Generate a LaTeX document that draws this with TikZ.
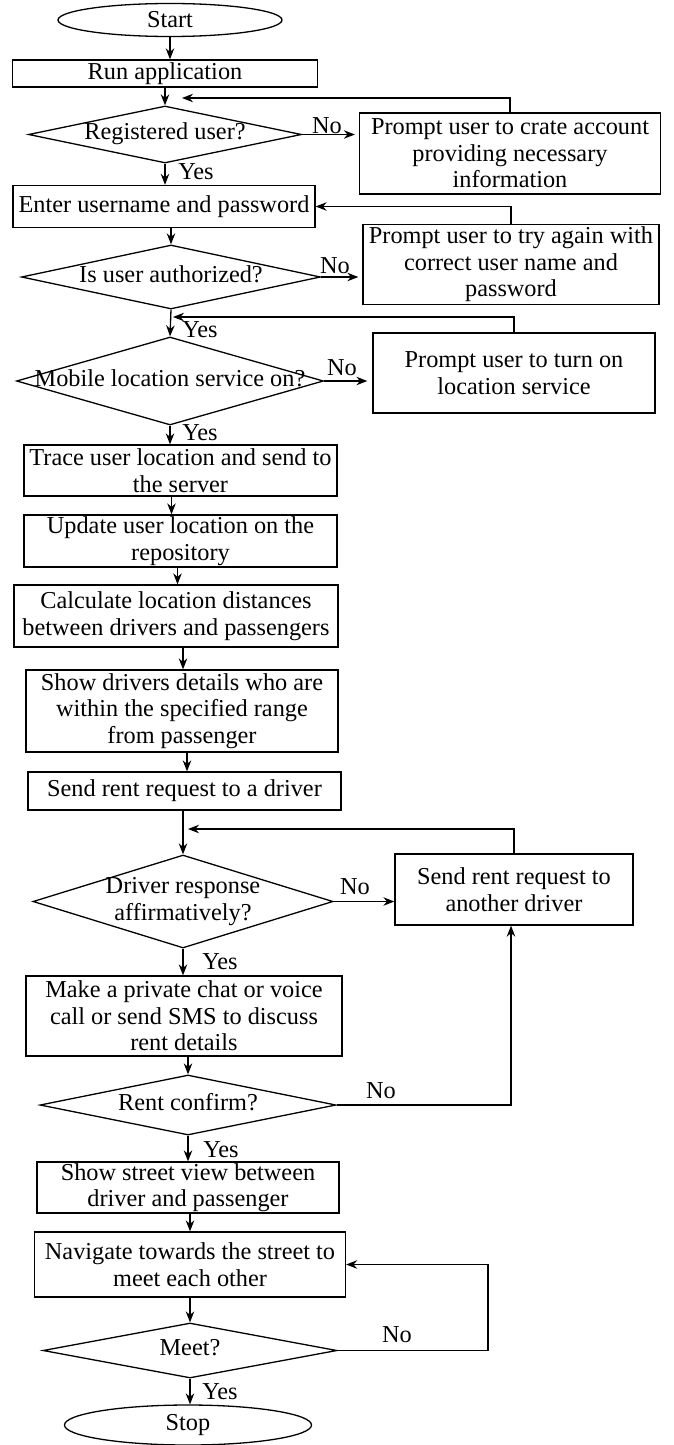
\documentclass[tikz,border=0pt]{standalone}
\usepackage{fontspec}
\setmainfont{Liberation Serif}
\usetikzlibrary{shapes.geometric,arrows.meta}

% diamond caption that does not widen its diamond
\newcommand{\dtext}[1]{\makebox[0pt]{\begin{tabular}{@{}c@{}}#1\end{tabular}}}

\begin{document}
\begin{tikzpicture}[x=1pt,y=-1pt,
  every node/.style={font=\fontsize{24.3}{26.5}\selectfont},
  line/.style={draw,line width=1.3pt},
  arr/.style={line,-{Stealth[length=11pt,width=8.5pt]}},
  proc/.style={draw,line width=1.3pt,rectangle,inner sep=0pt,align=center},
  dec/.style={draw,line width=1.3pt,diamond,inner sep=0pt},
  term/.style={draw,line width=1.3pt,ellipse,inner sep=0pt},
  lbl/.style={inner sep=0pt}
]
\useasboundingbox (0,0) rectangle (673,1445);

% ---- nodes ----
\node[term,minimum width=224pt,minimum height=33pt] (start) at (170,20) {Start};
\node[proc,minimum width=305pt,minimum height=27pt] (run) at (165,73.5) {Run application};
\node[dec,minimum width=273pt,minimum height=57pt] (reg) at (165,134.5) {\dtext{Registered user?}};
\node[proc,minimum width=301pt,minimum height=81pt] (p1) at (510,153.5) {Prompt user to crate account\\providing necessary\\information};
\node[proc,minimum width=302pt,minimum height=42pt] (enter) at (164,206.5) {Enter username and password};
\node[dec,minimum width=299pt,minimum height=64pt] (auth) at (171,277) {\dtext{Is user authorized?}};
\node[proc,minimum width=296pt,minimum height=80pt] (p2) at (511,264.5) {Prompt user to try again with\\correct user name and\\password};
\node[dec,minimum width=307pt,minimum height=88pt] (loc) at (170,381) {\dtext{Mobile location service on?}};
\node[proc,minimum width=282pt,minimum height=80pt] (p3) at (514,373) {Prompt user to turn on\\location service};
\node[proc,minimum width=313pt,minimum height=51pt] (trace) at (180.5,470.5) {Trace user location and send to\\the server};
\node[proc,minimum width=313pt,minimum height=52pt] (upd) at (180.5,541) {Update user location on the\\repository};
\node[proc,minimum width=324pt,minimum height=62pt] (calc) at (176,616) {Calculate location distances\\between drivers and passengers};
\node[proc,minimum width=312pt,minimum height=82pt] (show) at (182,711) {Show drivers details who are\\within the specified range\\from passenger};
\node[proc,minimum width=313pt,minimum height=38pt] (send) at (184.5,791) {Send rent request to a driver};
\node[dec,minimum width=300pt,minimum height=93pt] (drv) at (183,901.5) {\dtext{Driver response\\affirmatively?}};
\node[proc,minimum width=238pt,minimum height=71pt] (anot) at (514,889.5) {Send rent request to\\another driver};
\node[proc,minimum width=316pt,minimum height=80pt] (make) at (184,1016) {Make a private chat or voice\\call or send SMS to discuss\\rent details};
\node[dec,minimum width=296pt,minimum height=60pt] (rent) at (188,1105) {\dtext{Rent confirm?}};
\node[proc,minimum width=302pt,minimum height=51pt] (street) at (188,1187.5) {Show street view between\\driver and passenger};
\node[proc,minimum width=311pt,minimum height=65pt] (nav) at (190,1264.5) {Navigate towards the street to\\meet each other};
\node[dec,minimum width=294pt,minimum height=55pt] (meet) at (190,1350.5) {\dtext{Meet?}};
\node[term,minimum width=247pt,minimum height=40pt] (stop) at (188,1425) {Stop};

% ---- free ends of the loop-back arrows ----
\coordinate (j1) at (182,98);
\coordinate (j3) at (173,317);
\coordinate (j4) at (188,829);
\coordinate (loopx) at (488,1300);

% ---- main flow ----
\draw[arr] (start.south) -- (start.south |- run.north);
\draw[arr] (run.south -| reg.north) -- (reg.north);
\draw[arr] (reg.south) -- (reg.south |- enter.north);
\draw[arr] (enter.south -| auth.north) -- (auth.north);
\draw[arr] (auth.south) -- (loc.north);
\draw[arr] (loc.south) -- (loc.south |- trace.north);
\draw[arr] ([xshift=-9pt]trace.south) -- ([xshift=-9pt]trace.south |- upd.north);
\draw[arr] ([xshift=-3pt]upd.south) -- ([xshift=-3pt]upd.south |- calc.north);
\draw[arr] ([xshift=7pt]calc.south) -- ([xshift=7pt]calc.south |- show.north);
\draw[arr] ([xshift=5pt]show.south) -- ([xshift=5pt]show.south |- send.north);
\draw[arr] (send.south -| drv.north) -- (drv.north);
\draw[arr] (drv.south) -- (drv.south |- make.north);
\draw[arr] (make.south -| rent.north) -- (rent.north);
\draw[arr] (rent.south) -- (rent.south |- street.north);
\draw[arr] (street.south -| nav.north) -- (nav.north);
\draw[arr] (nav.south) -- (meet.north);
\draw[arr] (meet.south) -- (meet.south |- stop.north);

% ---- branches ----
\draw[arr,shorten >=4pt] (reg.east) -- (reg.east -| p1.west);
\draw[arr] (p1.north) |- (j1);
\draw[arr,shorten >=4pt] (auth.east) -- (auth.east -| p2.west);
\draw[arr] (p2.north) |- (enter.east);
\draw[arr,shorten >=5pt] (loc.east) -- (loc.east -| p3.west);
\draw[arr] (p3.north) |- (j3);
\draw[arr] (drv.east) -- (drv.east -| anot.west);
\draw[arr] (anot.north) |- (j4);
\draw[arr] (rent.east) -| ([xshift=-3pt]anot.south);
\draw[arr] (meet.east) -- (meet.east -| loopx) |- (nav.east);

% ---- branch labels ----
\node[lbl] (n1) at (327,126) {No};
\node[lbl] (y1) at (196,172) {Yes};
\node[lbl] (n2) at (335,266) {No};
\node[lbl] (y2) at (200,330) {Yes};
\node[lbl] (n3) at (342,368) {No};
\node[lbl] (y3) at (200,433) {Yes};
\node[lbl] (n4) at (355,887) {No};
\node[lbl] (y4) at (220,962) {Yes};
\node[lbl] (n5) at (381,1091) {No};
\node[lbl] (y5) at (221,1150) {Yes};
\node[lbl] (n6) at (397,1335) {No};
\node[lbl] (y6) at (220,1392) {Yes};
\end{tikzpicture}
\end{document}
